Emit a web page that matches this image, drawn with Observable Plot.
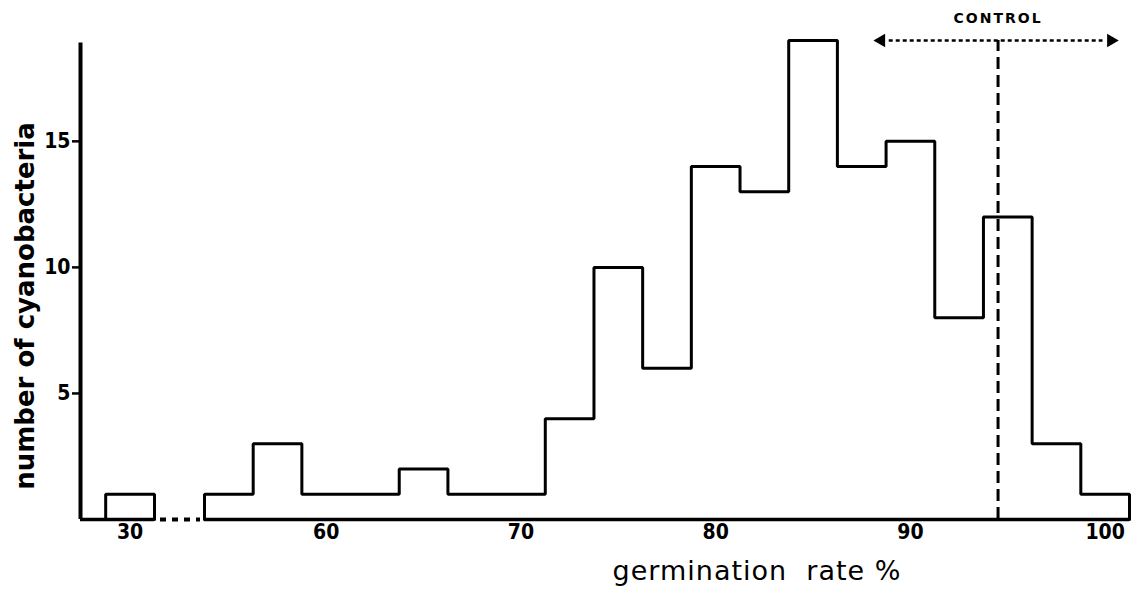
<!DOCTYPE html>
<html><head><meta charset="utf-8">
<script src="https://cdn.jsdelivr.net/npm/d3@7"></script>
<script src="https://cdn.jsdelivr.net/npm/@observablehq/plot@0.6"></script>
<style>
body{margin:0;background:#fff;}
#chart svg [aria-label^="y-axis"] line, #chart svg [aria-label^="y-axis"] path {stroke-width:2.5px;}
</style></head><body><div id="chart"></div>
<script>
// histogram bins (germination rate %, bin centres) and counts
const binCenters = [30, 55, 57.5, 60, 62.5, 65, 67.5, 70, 72.5, 75, 77.5, 80, 82.5, 85, 87.5, 90, 92.5, 95, 97.5, 100];
const counts     = [1,  1,  3,    1,  1,    2,  1,    1,  4,    10, 6,    14, 13,   19, 14,   15, 8,    12, 3,    1];
const binWidth = 2.5;
const xTicks = [30, 60, 70, 80, 90, 100];
const yTicks = [5, 10, 15];
const xDomain = [27.46, 31.25, 53.75, 101.25]; // broken axis, 31.25–53.75 compressed
const xRange  = [80, 154, 204, 1129];
const axisBreak = [31.25, 53.75];
const yDomain = [0, 19];
const yAxisTop = 18.9;
const controlValue = [94.5];
const controlRange = [88.5, 100.3];
const controlLevel = 19;
const yTitle = ["number of cyanobacteria"];
const xTitle = ["germination  rate %"];
const controlLabel = "CONTROL";

// build step outline from bins
const segments = [];
binCenters.forEach((c, i) => {
  const last = segments[segments.length - 1];
  if (last && Math.abs(c - last[last.length - 1].c - binWidth) < 1e-6) last.push({c, n: counts[i]});
  else segments.push([{c, n: counts[i]}]);
});
const stepPts = [];
segments.forEach((seg, s) => {
  stepPts.push({x: seg[0].c - binWidth / 2, y: 0, s});
  seg.forEach(b => stepPts.push({x: b.c - binWidth / 2, y: b.n, s}));
  stepPts.push({x: seg[seg.length - 1].c + binWidth / 2, y: 0, s});
});
const baseSegments = [[xDomain[0], axisBreak[0]], [axisBreak[1], xDomain[xDomain.length - 1]]];
const heads = [{x: controlRange[0], r: -90}, {x: controlRange[1], r: 90}];

const plot = Plot.plot({
  width: 1131,
  height: 591,
  marginLeft: 80,
  marginRight: 2,
  marginTop: 40,
  marginBottom: 72,
  style: {fontFamily: "'Liberation Sans Narrow', 'DejaVu Sans Condensed', sans-serif", fontWeight: "bold", fontSize: "21px", background: "white", color: "black"},
  x: {type: "linear", domain: xDomain, range: xRange, ticks: xTicks, tickSize: 0, tickPadding: 5, label: null, tickFormat: d => String(d)},
  y: {domain: yDomain, ticks: yTicks, tickSize: 8, tickPadding: 2, label: null},
  marks: [
    Plot.ruleY(baseSegments, {y: 0, x1: d => d[0], x2: d => d[1], strokeWidth: 3.5}),
    Plot.ruleY([0], {x1: axisBreak[0], x2: axisBreak[1], strokeWidth: 4, strokeDasharray: "6,6", insetLeft: 6, insetRight: 4}),
    Plot.ruleX([xDomain[0]], {y1: 0, y2: yAxisTop, strokeWidth: 4}),
    Plot.line(stepPts, {x: "x", y: "y", z: "s", curve: "step-after", strokeWidth: 3, strokeLinejoin: "miter"}),
    Plot.ruleX(controlValue, {x: d => d, y1: 0, y2: controlLevel, strokeWidth: 3, strokeDasharray: "12,6"}),
    Plot.ruleY([controlLevel], {x1: controlRange[0], x2: controlRange[1], strokeWidth: 2.5, strokeDasharray: "4,3", insetLeft: 8, insetRight: 8}),
    Plot.dot(heads, {x: "x", y: controlLevel, symbol: "triangle", rotate: "r", r: 5, fill: "black", stroke: null}),
    Plot.text(controlValue, {x: d => d, y: controlLevel, dy: -22, text: () => controlLabel, fontFamily: "DejaVu Sans", fontWeight: "bold", fontSize: 14}),
    Plot.text(yTitle, {frameAnchor: "left", textAnchor: "middle", dx: -55, dy: 26, rotate: -90, text: d => d, fontFamily: "DejaVu Sans", fontWeight: "bold", fontSize: 26}),
    Plot.text(xTitle, {frameAnchor: "bottom", textAnchor: "middle", dx: 152, dy: 60, text: d => d, fontFamily: "DejaVu Sans", fontWeight: "normal", fontSize: 27})
  ]
});
d3.select(plot).selectAll("text").filter(function() { return this.textContent === controlLabel; }).attr("letter-spacing", 2);
d3.select(plot).selectAll("text").filter(function() { return this.textContent === xTitle[0]; }).attr("letter-spacing", 1);
document.getElementById("chart").append(plot);
</script></body></html>
